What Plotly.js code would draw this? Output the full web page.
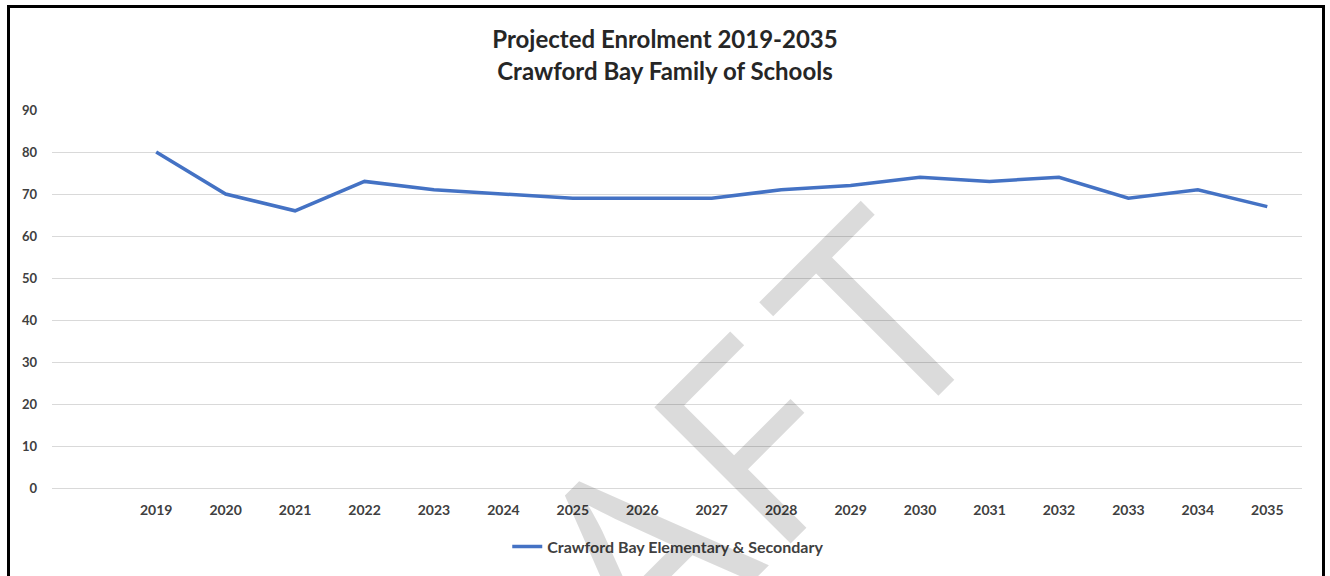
<!DOCTYPE html>
<html>
<head>
<meta charset="utf-8">
<script src="https://cdn.plot.ly/plotly-3.0.1.min.js"></script>
<style>
  html, body { margin: 0; padding: 0; background: #fff; width: 1330px; height: 576px; overflow: hidden; }
  #chart { position: absolute; left: 0; top: 0; width: 1330px; height: 576px; }
  #frame { position: absolute; left: 7px; top: 5px; width: 1312px; height: 600px; border: 3px solid #000; pointer-events: none; }
</style>
</head>
<body>
<div id="chart"></div>
<div id="frame"></div>
<script>
const years = ["2019","2020","2021","2022","2023","2024","2025","2026","2027","2028","2029","2030","2031","2032","2033","2034","2035"];
const enrolment = [80, 70, 66, 73, 71, 70, 69, 69, 69, 71, 72, 74, 73, 74, 69, 71, 67];
const seriesName = "Crawford Bay Elementary & Secondary";
const yTicks = [0, 10, 20, 30, 40, 50, 60, 70, 80, 90];

const fontFam = "Lato, 'Open Sans', sans-serif";

const trace = {
  x: years,
  y: enrolment,
  type: "scatter",
  mode: "lines",
  name: seriesName,
  line: { color: "#4472C4", width: 3.5 },
  showlegend: true
};

const watermark = 'DR<span style="letter-spacing:4px">A</span><span style="letter-spacing:33px">F</span>T';

const layout = {
  width: 1330,
  height: 576,
  margin: { l: 52, r: 28, t: 110, b: 86 },
  paper_bgcolor: "#ffffff",
  plot_bgcolor: "#ffffff",
  title: {
    text: "<b>Projected Enrolment 2019-2035</b><br><b>Crawford Bay Family of Schools</b>",
    font: { family: fontFam, size: 24, color: "#262626" },
    x: 0.5, xanchor: "center",
    y: 0.916, yanchor: "middle", yref: "container"
  },
  xaxis: {
    type: "category",
    range: [-1.5, 16.5],
    showgrid: false,
    zeroline: false,
    showline: false,
    ticks: "",
    ticklabelstandoff: 12,
    tickfont: { family: fontFam, size: 14, color: "#404040", weight: "bold" },
    fixedrange: true
  },
  yaxis: {
    range: [0, 90],
    tickvals: yTicks,
    ticktext: yTicks.map(String),
    showgrid: true,
    gridcolor: "#d9d9d9",
    gridwidth: 1,
    zeroline: true,
    zerolinecolor: "#d9d9d9",
    zerolinewidth: 1,
    showline: false,
    ticks: "",
    ticklabelstandoff: 14,
    tickfont: { family: fontFam, size: 13, color: "#404040", weight: "bold" },
    fixedrange: true
  },
  showlegend: true,
  legend: {
    orientation: "h",
    x: 0.493, xanchor: "center",
    y: -0.155, yanchor: "middle",
    font: { family: fontFam, size: 16, color: "#404040", weight: "bold" },
    bgcolor: "rgba(0,0,0,0)"
  },
  annotations: [{
    text: watermark,
    xref: "paper", yref: "paper",
    x: 0.4548, y: -0.2027,
    xanchor: "center", yanchor: "middle",
    showarrow: false,
    textangle: -45,
    font: { family: "'Open Sans', sans-serif", size: 270, color: "rgba(0,0,0,0.14)" }
  }]
};

Plotly.newPlot("chart", [trace], layout, { staticPlot: true, displayModeBar: false });
</script>
</body>
</html>
